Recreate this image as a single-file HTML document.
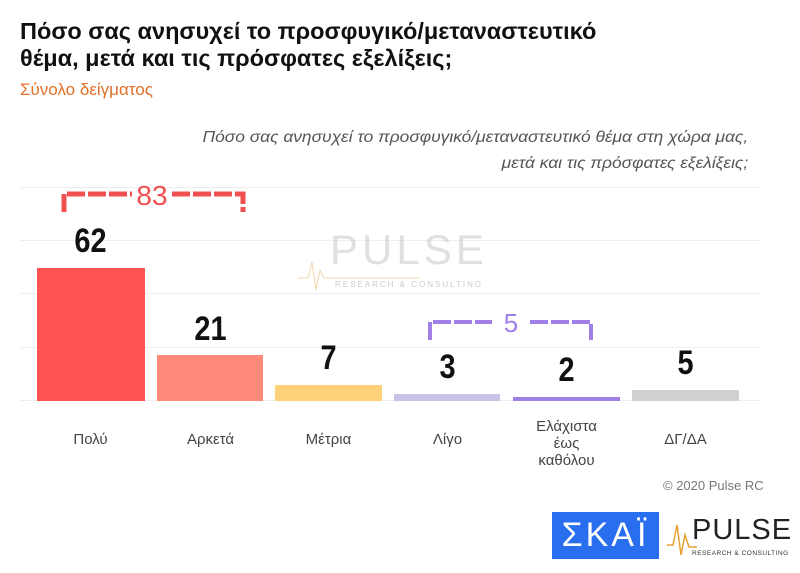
<!DOCTYPE html>
<html><head><meta charset="utf-8"><style>
body{margin:0;width:800px;height:573px;background:#fff;font-family:"Liberation Sans",sans-serif;position:relative;overflow:hidden}
.a{position:absolute}
.g{position:absolute;left:20px;width:740px;height:1px;background:#eee}
.bar{position:absolute}
.v{position:absolute;width:107px;text-align:center;font-weight:bold;font-size:34px;color:#111;transform:scaleX(.85)}
.l{position:absolute;width:107px;text-align:center;font-size:15px;color:#444;line-height:17px}
</style></head><body>
<div class="a" style="left:20px;top:18px;font-size:23.5px;font-weight:bold;color:#111;line-height:27px;transform:scaleX(1.0);transform-origin:left">Πόσο σας ανησυχεί το προσφυγικό/μεταναστευτικό<br>θέμα, μετά και τις πρόσφατες εξελίξεις;</div>
<div class="a" style="left:20px;top:80px;font-size:17px;color:#e0702a">Σύνολο δείγματος</div>
<div class="a" style="right:52px;top:125px;font-size:15.5px;font-style:italic;color:#555;text-align:right;line-height:26px;transform:scaleX(1.12);transform-origin:right">Πόσο σας ανησυχεί το προσφυγικό/μεταναστευτικό θέμα στη χώρα μας,<br>μετά και τις πρόσφατες εξελίξεις;</div>
<div class="g" style="top:187px"></div><div class="g" style="top:240px"></div><div class="g" style="top:293px"></div><div class="g" style="top:347px"></div><div class="g" style="top:400px"></div>
<div class="a" style="left:330px;top:226px;font-size:42px;color:#ccc;letter-spacing:4px;opacity:.6">PULSE</div>
<div class="a" style="left:335px;top:280px;font-size:8px;color:#ccc;letter-spacing:2px">RESEARCH &amp; CONSULTING</div>
<svg class="a" style="left:0;top:0" width="800" height="573">
<path d="M64 212V194H132M172 194H243V212" stroke="#f05050" stroke-width="5" fill="none" stroke-dasharray="18 3"/>
<path d="M430 340V322H492M530 322H591V340" stroke="#a080e8" stroke-width="4" fill="none" stroke-dasharray="18 3"/>
<path d="M298 278H308L312 262L316 290L320 270L324 278H420" stroke="#f0d8b0" stroke-width="1" fill="none"/>
</svg>
<div class="a" style="left:132px;top:180px;width:40px;text-align:center;font-size:28px;color:#f05050">83</div>
<div class="a" style="left:492px;top:308px;width:38px;text-align:center;font-size:26px;color:#a080e8">5</div>
<div class="bar" style="left:37px;top:268px;width:108px;height:133px;background:#ff5252"></div>
<div class="bar" style="left:157px;top:355px;width:106px;height:46px;background:#ff8a7a"></div>
<div class="bar" style="left:275px;top:385px;width:107px;height:16px;background:#ffd27a"></div>
<div class="bar" style="left:394px;top:394px;width:106px;height:7px;background:#c8c4e8"></div>
<div class="bar" style="left:513px;top:397px;width:107px;height:4px;background:#a080e8"></div>
<div class="bar" style="left:632px;top:390px;width:107px;height:11px;background:#d0d0d0"></div>
<div class="v" style="left:37px;top:222px">62</div>
<div class="v" style="left:157px;top:310px">21</div>
<div class="v" style="left:275px;top:339px">7</div>
<div class="v" style="left:394px;top:348px">3</div>
<div class="v" style="left:513px;top:351px">2</div>
<div class="v" style="left:632px;top:344px">5</div>
<div class="l" style="left:37px;top:431px">Πολύ</div>
<div class="l" style="left:157px;top:431px">Αρκετά</div>
<div class="l" style="left:275px;top:431px">Μέτρια</div>
<div class="l" style="left:394px;top:431px">Λίγο</div>
<div class="l" style="left:513px;top:418px">Ελάχιστα<br>έως<br>καθόλου</div>
<div class="l" style="left:632px;top:431px">ΔΓ/ΔΑ</div>
<div class="a" style="left:663px;top:478px;font-size:13px;color:#777">© 2020 Pulse RC</div>
<div class="a" style="left:552px;top:512px;width:107px;height:47px;background:#2a6ef0;color:#fff;font-size:34px;text-align:center;line-height:47px;letter-spacing:3px">ΣΚΑΪ</div>
<div class="a" style="left:692px;top:514px;font-size:29px;color:#222;letter-spacing:1px;line-height:32px">PULSE</div>
<div class="a" style="left:692px;top:550px;font-size:6.5px;color:#333;letter-spacing:.5px;white-space:nowrap">RESEARCH &amp; CONSULTING</div>
<svg class="a" style="left:667px;top:515px" width="30" height="45"><path d="M0 30H6L10 10L14 40L18 20L22 32H30" stroke="#e8a030" stroke-width="1.5" fill="none"/></svg>
</body></html>
